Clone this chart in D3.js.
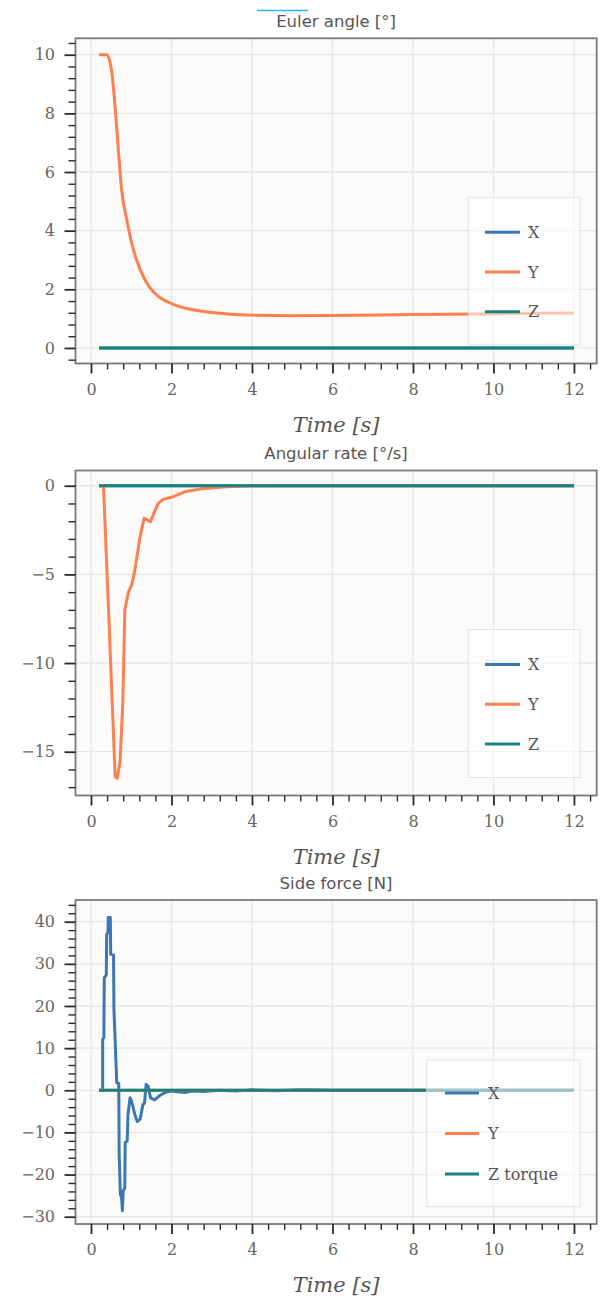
<!DOCTYPE html>
<html><head><meta charset="utf-8">
<script src="https://cdn.jsdelivr.net/npm/d3@7"></script>
<style>body{margin:0;background:#fff}svg{display:block}</style>
</head><body><svg id="c" width="600" height="1301"></svg>
<script>
// ---------- data ----------
const xTicks = [0, 2, 4, 6, 8, 10, 12];
const eulerTicks = [0, 2, 4, 6, 8, 10];
const rateTicks = [-15, -10, -5, 0];
const forceTicks = [-30, -20, -10, 0, 10, 20, 30, 40];

const titles = ["Euler angle [°]", "Angular rate [°/s]", "Side force [N]"];
const legendLabels = [["X", "Y", "Z"], ["X", "Y", "Z"], ["X", "Y", "Z torque"]];
const xLabel = "Time [s]";

// Euler angle
const zeroT = [0.2, 12];
const eulerX = [0, 0];
const eulerYT = [0.2, 0.39, 0.51, 0.6, 0.68, 0.76, 0.89, 1.01, 1.22, 1.46, 1.71, 2.04, 2.54, 3.2, 3.86, 5.0, 6.0, 8.0, 10.0, 12.0];
const eulerY  = [10, 10, 9.46, 8.2, 6.75, 5.4, 4.37, 3.58, 2.68, 2.06, 1.72, 1.49, 1.30, 1.18, 1.12, 1.10, 1.11, 1.14, 1.17, 1.19];
const eulerZ = [0, 0];

// Angular rate
const rateX = [0, 0];
const rateYT = [0.2, 0.31, 0.45, 0.6, 0.65, 0.72, 0.79, 0.84, 0.93, 1.01, 1.09, 1.22, 1.32, 1.40, 1.48, 1.56, 1.67, 1.79, 2.04, 2.33, 2.7, 3.37, 4.0, 12.0];
const rateY  = [0, 0, -7.8, -16.4, -16.5, -15.6, -12.3, -7.0, -6.0, -5.6, -4.75, -2.87, -1.84, -1.93, -2.03, -1.56, -0.99, -0.77, -0.62, -0.34, -0.19, -0.06, 0, 0];
const rateZ = [0, 0];

// Side force
const forceXT = [0.21, 0.29, 0.29, 0.32, 0.33, 0.38, 0.39, 0.42, 0.43, 0.48, 0.49, 0.56, 0.57, 0.64, 0.69, 0.70, 0.73, 0.76, 0.78, 0.80, 0.84, 0.85, 0.90, 0.92, 0.97, 1.01, 1.09, 1.15, 1.22, 1.29, 1.33, 1.37, 1.42, 1.48, 1.58, 1.70, 1.85, 2.0, 2.2, 2.35, 2.5, 2.8, 3.2, 3.6, 4.0, 4.6, 5.2, 6.0, 12.0];
const forceX  = [0, 0, 12.1, 12.5, 26.7, 27.4, 37.0, 37.4, 41.0, 41.0, 32.3, 32.1, 19.2, 1.8, 1.6, -15.2, -24.7, -25.5, -28.6, -23.9, -23.2, -12.4, -12.0, -5.7, -1.75, -2.6, -5.8, -7.4, -6.9, -3.4, -3.0, 1.4, 1.0, -1.8, -2.3, -1.3, -0.5, -0.2, -0.4, -0.5, -0.2, -0.3, 0.0, -0.2, 0.1, -0.1, 0.1, 0, 0];
const forceY = [0, 0];
const forceZ = [0, 0];

const colors = ["#3b78b3", "#ff7f50", "#178380"];

// ---------- layout ----------
const L = 75.5, R = 596.7;
const panels = [
  { top: 38.3, bottom: 363.5, yDomain: [-0.53, 10.56], yTicks: eulerTicks, minorStep: 0.4, majorStep: 2,
    series: [[zeroT, eulerX], [eulerYT, eulerY], [zeroT, eulerZ]], curve: d3.curveMonotoneX,
    legend: { x0: 468.3, x1: 580, y0: 197.3, y1: 345, lx0: 485, lx1: 520, tx: 528, rows: [232.3, 272, 311.7] } },
  { top: 470.5, bottom: 795.5, yDomain: [-17.47, 0.86], yTicks: rateTicks, minorStep: 1, majorStep: 5,
    series: [[zeroT, rateX], [rateYT, rateY], [zeroT, rateZ]], curve: d3.curveLinear,
    legend: { x0: 468.3, x1: 580, y0: 629.5, y1: 777.5, lx0: 485, lx1: 520, tx: 528, rows: [664.5, 704.2, 744] } },
  { top: 900, bottom: 1224, yDomain: [-31.73, 45.15], yTicks: forceTicks, minorStep: 2, majorStep: 10,
    series: [[forceXT, forceX], [zeroT, forceY], [zeroT, forceZ]], curve: d3.curveLinear,
    legend: { x0: 426.7, x1: 580, y0: 1060, y1: 1206.7, lx0: 445, lx1: 479, tx: 488, rows: [1093, 1133.5, 1174] } }
];

const svg = d3.select("#c");
const serif = "DejaVu Serif";

function minorTicks(domain, step, majorStep) {
  const out = [];
  const s = Math.ceil(domain[0] / step), e = Math.floor(domain[1] / step);
  for (let i = s; i <= e; i++) {
    const v = Math.round(i * step * 1000) / 1000;
    const r = v / majorStep;
    if (Math.abs(r - Math.round(r)) > 1e-6) out.push(v);
  }
  return out;
}

// title artifact line
svg.append("line").attr("x1", 257).attr("x2", 308).attr("y1", 10.5).attr("y2", 10.5)
  .attr("stroke", "#29b6f6").attr("stroke-width", 1.5);

panels.forEach((p, i) => {
  const x = d3.scaleLinear().domain([-0.385, 12.565]).range([L, R]);
  const y = d3.scaleLinear().domain(p.yDomain).range([p.bottom, p.top]);
  const g = svg.append("g");

  // background
  g.append("rect").attr("x", L).attr("y", p.top).attr("width", R - L).attr("height", p.bottom - p.top)
    .attr("fill", "#fcfbfa");

  // grid
  g.append("g").selectAll("line").data(xTicks).join("line")
    .attr("x1", d => x(d)).attr("x2", d => x(d)).attr("y1", p.top).attr("y2", p.bottom)
    .attr("stroke", "#e6e6e6").attr("stroke-width", 1.3);
  g.append("g").selectAll("line").data(p.yTicks).join("line")
    .attr("x1", L).attr("x2", R).attr("y1", d => y(d)).attr("y2", d => y(d))
    .attr("stroke", "#e6e6e6").attr("stroke-width", 1.3);

  // clip
  const cid = "clip" + i;
  svg.append("clipPath").attr("id", cid).append("rect")
    .attr("x", L).attr("y", p.top).attr("width", R - L).attr("height", p.bottom - p.top);

  // lines
  const line = d3.line().x(d => x(d[0])).y(d => y(d[1])).curve(p.curve);
  const lg = g.append("g").attr("clip-path", `url(#${cid})`);
  p.series.forEach((s, k) => {
    const pts = s[0].map((t, j) => [t, s[1][j]]);
    lg.append("path").attr("d", line(pts)).attr("fill", "none")
      .attr("stroke", colors[k]).attr("stroke-width", 3)
      .attr("stroke-linejoin", "round").attr("stroke-linecap", "butt");
  });

  // legend
  const lgd = p.legend;
  g.append("rect").attr("x", lgd.x0).attr("y", lgd.y0).attr("width", lgd.x1 - lgd.x0).attr("height", lgd.y1 - lgd.y0)
    .attr("fill", "#ffffff").attr("fill-opacity", 0.55).attr("stroke", "#dcdcdc").attr("stroke-opacity", 0.8).attr("stroke-width", 1);
  lgd.rows.forEach((ry, k) => {
    g.append("line").attr("x1", lgd.lx0).attr("x2", lgd.lx1).attr("y1", ry).attr("y2", ry)
      .attr("stroke", colors[k]).attr("stroke-width", 3);
    g.append("text").attr("x", lgd.tx).attr("y", ry).attr("dy", "0.35em")
      .attr("font-family", serif).attr("font-size", 16).attr("fill", "#555")
      .text(legendLabels[i][k]);
  });

  // frame
  g.append("rect").attr("x", L).attr("y", p.top).attr("width", R - L).attr("height", p.bottom - p.top)
    .attr("fill", "none").attr("stroke", "#7a7a7a").attr("stroke-width", 1.8);

  // axes - x
  const xa = g.append("g").attr("transform", `translate(0,${p.bottom})`)
    .call(d3.axisBottom(x).tickValues(xTicks).tickSize(10).tickPadding(10).tickFormat(d3.format("d")));
  const xm = g.append("g").attr("transform", `translate(0,${p.bottom})`)
    .call(d3.axisBottom(x).tickValues(minorTicks(x.domain(), 0.4, 2)).tickSize(6).tickFormat(""));
  // axes - y
  const ya = g.append("g").attr("transform", `translate(${L},0)`)
    .call(d3.axisLeft(y).tickValues(p.yTicks).tickSize(11).tickPadding(9.5));
  const ym = g.append("g").attr("transform", `translate(${L},0)`)
    .call(d3.axisLeft(y).tickValues(minorTicks(p.yDomain, p.minorStep, p.majorStep)).tickSize(7).tickFormat(""));

  [xa, xm, ya, ym].forEach(a => {
    a.select(".domain").remove();
  });
  [xa, ya].forEach(a => {
    a.selectAll(".tick line").attr("stroke", "#2a2a2a").attr("stroke-width", 1.8);
    a.selectAll(".tick text").attr("font-family", serif).attr("font-size", 16).attr("fill", "#666");
  });
  [xm, ym].forEach(a => {
    a.selectAll(".tick line").attr("stroke", "#2a2a2a").attr("stroke-width", 1.4);
  });

  // title
  g.append("text").attr("x", (L + R) / 2).attr("y", p.top - 11.5).attr("text-anchor", "middle")
    .attr("font-family", "DejaVu Sans").attr("font-size", 16.5).attr("fill", "#555")
    .text(titles[i]);

  // x label
  g.append("text").attr("x", (L + R) / 2).attr("y", p.bottom + 68).attr("text-anchor", "middle")
    .attr("font-family", serif).attr("font-style", "italic").attr("font-size", 21).attr("fill", "#555")
    .text(xLabel);
});
</script>
</body></html>
